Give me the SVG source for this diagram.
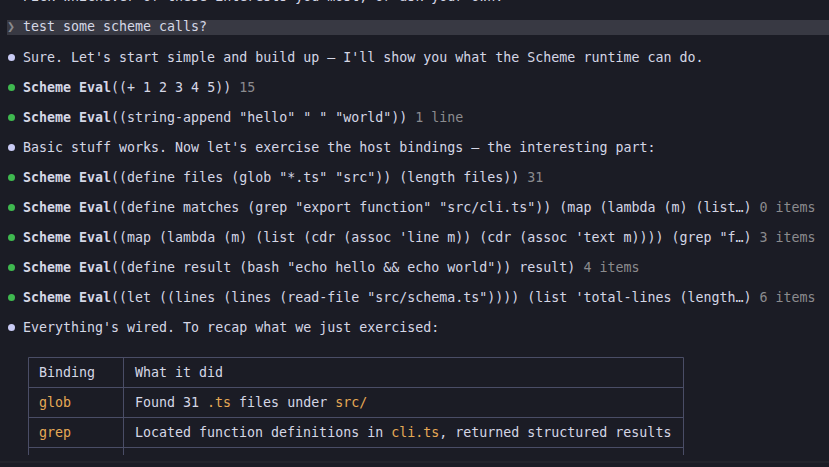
<svg xmlns="http://www.w3.org/2000/svg" width="829" height="467" viewBox="0 0 829 467">
<style>
text{font-family:"DejaVu Sans Mono","Liberation Mono",monospace;font-size:13.3px;fill:#d5d7e6;white-space:pre}
.b{font-weight:bold}.g{fill:#8b8b8e}.o{fill:#e6a955}
.dg{fill:#3fb950}.dl{fill:#c9cbf5}
.ln{stroke:#4a4d66;stroke-width:1;fill:none}
</style>
<rect width="829" height="467" fill="#1b1c25"/>
<path d="M0 462 H829" stroke="#2a2b33" stroke-width="1"/>
<text x="23" y="1">Pick whichever of these interests you most, or ask your own.</text>
<rect x="7" y="20" width="822" height="15" fill="#383943"/>
<text x="7" y="31" class="g">❯</text><text x="23" y="31">test some scheme calls?</text>
<g id="lines">
<circle cx="11.5" cy="57.5" r="3.5" class="dl"/><text x="23" y="62">Sure. Let's start simple and build up — I'll show you what the Scheme runtime can do.</text>
<circle cx="11.5" cy="87.5" r="3.5" class="dg"/><text x="23" y="92"><tspan class="b">Scheme Eval</tspan>((+ 1 2 3 4 5)) <tspan class="g">15</tspan></text>
<circle cx="11.5" cy="117.5" r="3.5" class="dg"/><text x="23" y="122"><tspan class="b">Scheme Eval</tspan>((string-append "hello" " " "world")) <tspan class="g">1 line</tspan></text>
<circle cx="11.5" cy="147.5" r="3.5" class="dl"/><text x="23" y="152">Basic stuff works. Now let's exercise the host bindings — the interesting part:</text>
<circle cx="11.5" cy="177.5" r="3.5" class="dg"/><text x="23" y="182"><tspan class="b">Scheme Eval</tspan>((define files (glob "*.ts" "src")) (length files)) <tspan class="g">31</tspan></text>
<circle cx="11.5" cy="207.5" r="3.5" class="dg"/><text x="23" y="212"><tspan class="b">Scheme Eval</tspan>((define matches (grep "export function" "src/cli.ts")) (map (lambda (m) (list…) <tspan class="g">0 items</tspan></text>
<circle cx="11.5" cy="237.5" r="3.5" class="dg"/><text x="23" y="242"><tspan class="b">Scheme Eval</tspan>((map (lambda (m) (list (cdr (assoc 'line m)) (cdr (assoc 'text m)))) (grep "f…) <tspan class="g">3 items</tspan></text>
<circle cx="11.5" cy="267.5" r="3.5" class="dg"/><text x="23" y="272"><tspan class="b">Scheme Eval</tspan>((define result (bash "echo hello &amp;&amp; echo world")) result) <tspan class="g">4 items</tspan></text>
<circle cx="11.5" cy="297.5" r="3.5" class="dg"/><text x="23" y="302"><tspan class="b">Scheme Eval</tspan>((let ((lines (lines (read-file "src/schema.ts")))) (list 'total-lines (length…) <tspan class="g">6 items</tspan></text>
<circle cx="11.5" cy="327.5" r="3.5" class="dl"/><text x="23" y="332">Everything's wired. To recap what we just exercised:</text>
</g>
<g id="table">
<path class="ln" d="M28.5 357.5 H683.5 M28.5 387.5 H683.5 M28.5 417.5 H683.5 M28.5 447.5 H683.5 M28.5 357.5 V455 M123.5 357.5 V455 M683.5 357.5 V455"/>
<text x="39" y="377">Binding</text><text x="135" y="377">What it did</text>
<text x="39" y="407" class="o">glob</text><text x="135" y="407">Found 31 <tspan class="o">.ts</tspan> files under <tspan class="o">src/</tspan></text>
<text x="39" y="437" class="o">grep</text><text x="135" y="437">Located function definitions in <tspan class="o">cli.ts</tspan>, returned structured results</text>
</g>
</svg>
